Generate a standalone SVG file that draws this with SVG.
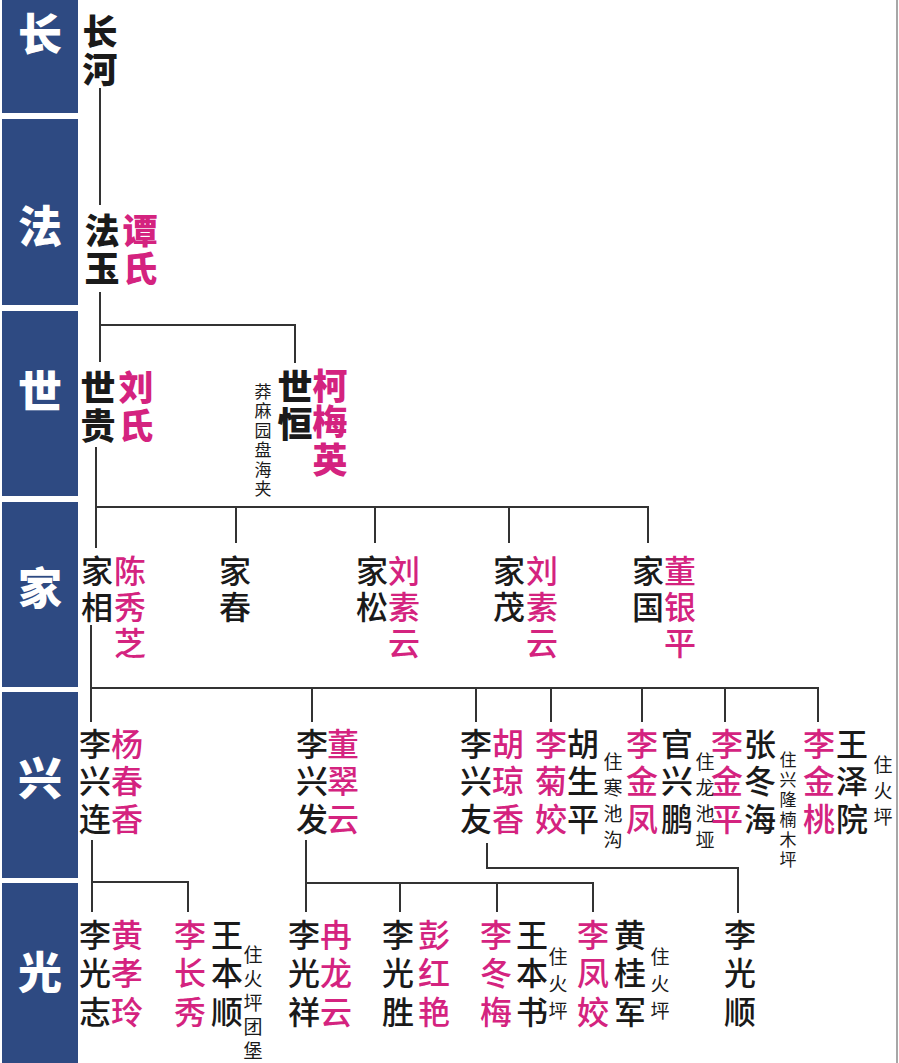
<svg xmlns="http://www.w3.org/2000/svg" width="899" height="1063" viewBox="0 0 899 1063">
<style>
text{font-family:"Noto Sans CJK SC","Noto Sans CJK TC",sans-serif;text-anchor:middle;dominant-baseline:central}
.band{fill:#2e4a82}
.bl{fill:#fff;font-size:44px;font-weight:900}
.top{font-size:35px;font-weight:900}
.mid{font-size:32px;font-weight:500}
.sm{font-size:19px;font-weight:400;fill:#1a1a1a}
.tn{font-size:17px;font-weight:400;fill:#1a1a1a}
.k{fill:#1a1a1a}
.m{fill:#d4237f}
.c{stroke:#333;stroke-width:2;fill:none}
</style>
<rect width="899" height="1063" fill="#fff"/>
<line x1="897" y1="0" x2="897" y2="1063" stroke="#8a8a8a" stroke-width="1.5"/>
<g id="bands">
<rect class="band" x="2" y="0" width="76" height="113"/>
<rect class="band" x="2" y="119" width="76" height="186"/>
<rect class="band" x="2" y="311" width="76" height="185"/>
<rect class="band" x="2" y="502" width="76" height="185"/>
<rect class="band" x="2" y="692" width="76" height="186"/>
<rect class="band" x="2" y="883" width="76" height="180"/>
<text class="bl" x="40" y="32">长</text>
<text class="bl" x="40" y="224">法</text>
<text class="bl" x="40" y="389">世</text>
<text class="bl" x="40" y="586">家</text>
<text class="bl" x="40" y="776">兴</text>
<text class="bl" x="40" y="970">光</text>
</g>
<g id="connectors">
<path class="c" d="M100 88V205"/>
<path class="c" d="M100 292V362M100 325H295V363"/>
<path class="c" d="M96 447V548M96 507H648V543M236 507V543M375 507V543M509 507V543"/>
<path class="c" d="M91 625V722M91 688H818V722M312 688V722M476 688V722M551 688V722M642 688V722M725 688V722"/>
<path class="c" d="M92 840V912M92 882H188V912"/>
<path class="c" d="M306 840V912M306 883H593V912M400 883V912M497 883V912"/>
<path class="c" d="M487 843V868H738V913"/>
</g>
<g id="n-changhe"><text class="top k"><tspan x="100" y="29">长</tspan><tspan x="100" y="67">河</tspan></text></g>
<g id="n-fayu"><text class="top k"><tspan x="102" y="228">法</tspan><tspan x="102" y="266">玉</tspan></text><text class="top m"><tspan x="140" y="228">谭</tspan><tspan x="140" y="266">氏</tspan></text></g>
<g id="n-shigui"><text class="top k"><tspan x="98" y="385">世</tspan><tspan x="98" y="423">贵</tspan></text><text class="top m"><tspan x="136" y="385">刘</tspan><tspan x="136" y="423">氏</tspan></text></g>
<g id="n-shiheng"><text class="top k"><tspan x="295" y="384">世</tspan><tspan x="295" y="421">恒</tspan></text><text class="top m"><tspan x="330" y="383">柯</tspan><tspan x="330" y="419">梅</tspan><tspan x="330" y="457">英</tspan></text><text class="tn"><tspan x="263" y="390">莽</tspan><tspan x="263" y="409">麻</tspan><tspan x="263" y="429">园</tspan><tspan x="263" y="448">盘</tspan><tspan x="263" y="468">海</tspan><tspan x="263" y="487">夹</tspan></text></g>
<g id="n-jiaxiang"><text class="mid k"><tspan x="97" y="569">家</tspan><tspan x="97" y="605">相</tspan></text><text class="mid m"><tspan x="130" y="569">陈</tspan><tspan x="130" y="605">秀</tspan><tspan x="130" y="641">芝</tspan></text></g>
<g id="n-jiachun"><text class="mid k"><tspan x="235" y="569">家</tspan><tspan x="235" y="605">春</tspan></text></g>
<g id="n-jiasong"><text class="mid k"><tspan x="372" y="569">家</tspan><tspan x="372" y="605">松</tspan></text><text class="mid m"><tspan x="404" y="569">刘</tspan><tspan x="404" y="605">素</tspan><tspan x="404" y="641">云</tspan></text></g>
<g id="n-jiamao"><text class="mid k"><tspan x="509" y="569">家</tspan><tspan x="509" y="605">茂</tspan></text><text class="mid m"><tspan x="542" y="569">刘</tspan><tspan x="542" y="605">素</tspan><tspan x="542" y="641">云</tspan></text></g>
<g id="n-jiaguo"><text class="mid k"><tspan x="648" y="569">家</tspan><tspan x="648" y="605">国</tspan></text><text class="mid m"><tspan x="680" y="569">董</tspan><tspan x="680" y="605">银</tspan><tspan x="680" y="641">平</tspan></text></g>
<g id="n-xinglian"><text class="mid k"><tspan x="95" y="742">李</tspan><tspan x="95" y="779">兴</tspan><tspan x="95" y="817">连</tspan></text><text class="mid m"><tspan x="127" y="742">杨</tspan><tspan x="127" y="779">春</tspan><tspan x="127" y="817">香</tspan></text></g>
<g id="n-xingfa"><text class="mid k"><tspan x="312" y="742">李</tspan><tspan x="312" y="779">兴</tspan><tspan x="312" y="817">发</tspan></text><text class="mid m"><tspan x="343" y="742">董</tspan><tspan x="343" y="779">翠</tspan><tspan x="343" y="817">云</tspan></text></g>
<g id="n-xingyou"><text class="mid k"><tspan x="476" y="742">李</tspan><tspan x="476" y="779">兴</tspan><tspan x="476" y="817">友</tspan></text><text class="mid m"><tspan x="508" y="742">胡</tspan><tspan x="508" y="779">琼</tspan><tspan x="508" y="817">香</tspan></text></g>
<g id="n-jujiao"><text class="mid m"><tspan x="551" y="742">李</tspan><tspan x="551" y="779">菊</tspan><tspan x="551" y="817">姣</tspan></text><text class="mid k"><tspan x="583" y="742">胡</tspan><tspan x="583" y="779">生</tspan><tspan x="583" y="817">平</tspan></text><text class="sm"><tspan x="613" y="760">住</tspan><tspan x="613" y="786">寒</tspan><tspan x="613" y="812">池</tspan><tspan x="613" y="838">沟</tspan></text></g>
<g id="n-jinfeng"><text class="mid m"><tspan x="642" y="742">李</tspan><tspan x="642" y="779">金</tspan><tspan x="642" y="817">凤</tspan></text><text class="mid k"><tspan x="677" y="742">官</tspan><tspan x="677" y="779">兴</tspan><tspan x="677" y="817">鹏</tspan></text><text class="sm"><tspan x="705" y="760">住</tspan><tspan x="705" y="786">龙</tspan><tspan x="705" y="812">池</tspan><tspan x="705" y="838">垭</tspan></text></g>
<g id="n-jinping"><text class="mid m"><tspan x="727" y="742">李</tspan><tspan x="727" y="779">金</tspan><tspan x="727" y="817">平</tspan></text><text class="mid k"><tspan x="760" y="742">张</tspan><tspan x="760" y="779">冬</tspan><tspan x="760" y="817">海</tspan></text><text class="tn"><tspan x="788" y="758">住</tspan><tspan x="788" y="778">兴</tspan><tspan x="788" y="798">隆</tspan><tspan x="788" y="818">楠</tspan><tspan x="788" y="838">木</tspan><tspan x="788" y="858">坪</tspan></text></g>
<g id="n-jintao"><text class="mid m"><tspan x="819" y="742">李</tspan><tspan x="819" y="779">金</tspan><tspan x="819" y="817">桃</tspan></text><text class="mid k"><tspan x="852" y="742">王</tspan><tspan x="852" y="779">泽</tspan><tspan x="852" y="817">院</tspan></text><text class="sm"><tspan x="883" y="763">住</tspan><tspan x="883" y="789">火</tspan><tspan x="883" y="815">坪</tspan></text></g>
<g id="n-guangzhi"><text class="mid k"><tspan x="95" y="933">李</tspan><tspan x="95" y="971">光</tspan><tspan x="95" y="1010">志</tspan></text><text class="mid m"><tspan x="127" y="933">黄</tspan><tspan x="127" y="971">孝</tspan><tspan x="127" y="1010">玲</tspan></text></g>
<g id="n-changxiu"><text class="mid m"><tspan x="190" y="933">李</tspan><tspan x="190" y="971">长</tspan><tspan x="190" y="1010">秀</tspan></text><text class="mid k"><tspan x="227" y="933">王</tspan><tspan x="227" y="971">本</tspan><tspan x="227" y="1010">顺</tspan></text><text class="sm"><tspan x="253" y="953">住</tspan><tspan x="253" y="977">火</tspan><tspan x="253" y="1001">坪</tspan><tspan x="253" y="1025">团</tspan><tspan x="253" y="1049">堡</tspan></text></g>
<g id="n-guangxiang"><text class="mid k"><tspan x="304" y="933">李</tspan><tspan x="304" y="971">光</tspan><tspan x="304" y="1010">祥</tspan></text><text class="mid m"><tspan x="336" y="933">冉</tspan><tspan x="336" y="971">龙</tspan><tspan x="336" y="1010">云</tspan></text></g>
<g id="n-guangsheng"><text class="mid k"><tspan x="398" y="933">李</tspan><tspan x="398" y="971">光</tspan><tspan x="398" y="1010">胜</tspan></text><text class="mid m"><tspan x="434" y="933">彭</tspan><tspan x="434" y="971">红</tspan><tspan x="434" y="1010">艳</tspan></text></g>
<g id="n-dongmei"><text class="mid m"><tspan x="496" y="933">李</tspan><tspan x="496" y="971">冬</tspan><tspan x="496" y="1010">梅</tspan></text><text class="mid k"><tspan x="532" y="933">王</tspan><tspan x="532" y="971">本</tspan><tspan x="532" y="1010">书</tspan></text><text class="sm"><tspan x="558" y="955">住</tspan><tspan x="558" y="982">火</tspan><tspan x="558" y="1009">坪</tspan></text></g>
<g id="n-fengjiao"><text class="mid m"><tspan x="593" y="933">李</tspan><tspan x="593" y="971">凤</tspan><tspan x="593" y="1010">姣</tspan></text><text class="mid k"><tspan x="630" y="933">黄</tspan><tspan x="630" y="971">桂</tspan><tspan x="630" y="1010">军</tspan></text><text class="sm"><tspan x="660" y="955">住</tspan><tspan x="660" y="982">火</tspan><tspan x="660" y="1009">坪</tspan></text></g>
<g id="n-guangshun"><text class="mid k"><tspan x="740" y="933">李</tspan><tspan x="740" y="971">光</tspan><tspan x="740" y="1010">顺</tspan></text></g>
</svg>
